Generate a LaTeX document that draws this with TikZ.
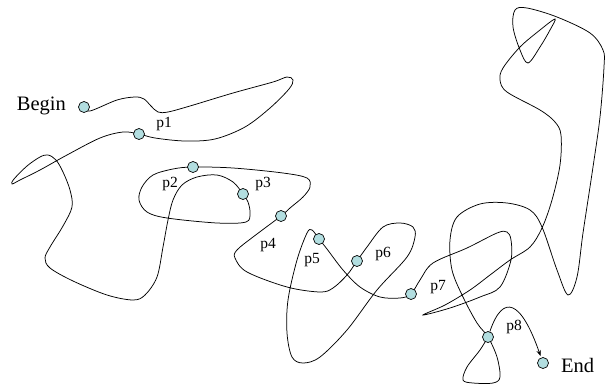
\documentclass[tikz,border=0pt]{standalone}
\usepackage{fontspec}
\setmainfont{Liberation Serif}
\usetikzlibrary{arrows.meta}
\pgfdeclarelayer{curve}
\pgfsetlayers{curve,main}
\definecolor{dotfill}{RGB}{178,222,224}
\begin{document}
\begin{tikzpicture}[x=1pt,y=-1pt,
  dot/.style={circle,draw=black,line width=0.7pt,fill=dotfill,minimum size=11pt,inner sep=0pt},
  tag/.style={font=\fontsize{15.5}{16}\selectfont,anchor=base,inner sep=0pt},
  bigtag/.style={font=\fontsize{20.5}{22}\selectfont,inner sep=0pt},
  route/.style={line width=0.75pt,black}]
\useasboundingbox (0,0) rectangle (608,386);

% way points
\node[dot] (begin) at (84,107) {};
\node[dot] (p1) at (139,134) {};
\node[dot] (p2) at (193,167) {};
\node[dot] (p3) at (243,194) {};
\node[dot] (p4) at (281,216) {};
\node[dot] (p5) at (319,239) {};
\node[dot] (p6) at (357,261) {};
\node[dot] (p7) at (411,294) {};
\node[dot] (p8) at (488,337) {};
\node[dot] (end) at (543,363) {};

% labels
\node[bigtag,anchor=base east] (lbegin) at (66,110.5) {Begin};
\node[bigtag,anchor=base west] (lend) at (561,372) {End};
\node[tag] (l1) at (164,127.5) {p1};
\node[tag] (l2) at (170,187.5) {p2};
\node[tag] (l3) at (263,187.5) {p3};
\node[tag] (l4) at (268,248) {p4};
\node[tag] (l5) at (312,263.5) {p5};
\node[tag] (l6) at (383,257.5) {p6};
\node[tag] (l7) at (438,290.5) {p7};
\node[tag] (l8) at (514,330.5) {p8};

% the winding route through all way points
\begin{pgfonlayer}{curve}
\draw[route] plot[smooth,tension=0.55] coordinates {
  (begin.center) (90,111) (117,100) (135,97) (144,99) (151,106) (158,112)
  (168,112) (190,106) (233,93) (273,82) (287,77) (293,80) (289,89)
  (270,108) (245,127) (215,139) (185,141) (155,138) (p1.center)
  (123,132) (100,138) (67,155) (40,170) (20,180) (12,184) (14,179)
  (27,166) (40,157) (48,155) (56,160) (63,172) (70,190) (72,207) (63,226)
  (50,247) (45,258) (50,268) (73,281) (107,295) (133,300) (145,295)
  (157,277) (163,247) (168,220) (173,200) (182,185) (197,177) (217,175)
  (233,182) (p3.center) (248,202) (250,213) (246,222) (217,223)
  (167,218) (147,212) (139,200) (142,187) (153,175) (173,169)
  (p2.center) (233,168) (283,173) (307,178) (310,187) (303,197)
  (290,208) (p4.center) (253,237) (237,250) (235,258) (247,272)
  (287,287) (320,292) (333,288) (347,275) (p6.center) (367,247)
  (383,227) (400,223) (413,227) (415,237) (407,257) (377,290)
  (347,330) (320,357) (303,363) (292,357) (287,333) (288,300)
  (297,260) (307,233) (312,230) (p5.center) (327,249) (343,270)
  (360,287) (380,297) (400,298) (p7.center) (420,280) (433,263)
  (467,248) (497,233) (507,232) (511,240) (511,260) (500,287)
  (480,297) (450,308) (423,315) (445,305) (470,290) (490,275)
  (510,260) (530,247) (542,228) (552,200) (560,165) (561,135)
  (555,122) (540,110) (507,92) (500,80) (503,68) (520,47) (540,30)
  (555,19) (550,30) (540,47) (528,63) (520,50) (513,27) (515,10)
  (527,8) (557,17) (590,33) (603,50) (604,67) (600,117) (593,167)
  (583,233) (577,277) (568,295) (557,270) (542,227) (530,210)
  (507,203) (480,204) (457,217) (450,240) (452,270) (463,297)
  (477,323) (p8.center) (497,357) (500,377) (493,383) (473,383)
  (463,380) (467,367) (480,350) (p8.center)};
\end{pgfonlayer}

% final leg to the goal
\draw[route,-{Stealth[length=6pt,width=4.5pt]},shorten >=1.5pt]
  (p8) .. controls (503,293) and (521,300) .. (end);
\end{tikzpicture}
\end{document}
